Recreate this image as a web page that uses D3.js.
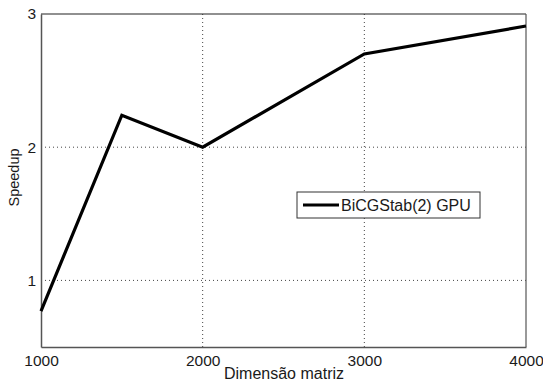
<!DOCTYPE html>
<html>
<head>
<meta charset="utf-8">
<script src="https://cdn.jsdelivr.net/npm/d3@7"></script>
<style>
  body { margin: 0; background: #fff; }
  text { font-family: "Liberation Sans", Arial, sans-serif; fill: #1a1a1a; }
</style>
</head>
<body>
<div id="chart"></div>
<script>
// data
var sizes = [1000, 1500, 2000, 3000, 4000];
var speedup = [0.77, 2.24, 2.0, 2.7, 2.91];
var xTicks = [1000, 2000, 3000, 4000];
var yTicks = [1, 2, 3];
var seriesName = "BiCGStab(2) GPU";

var W = 543, H = 385;
var margin = {left: 41, top: 14, right: 17, bottom: 38};
var pw = W - margin.left - margin.right,
    ph = H - margin.top - margin.bottom;

var svg = d3.select("#chart").append("svg")
    .attr("width", W)
    .attr("height", H);

var g = svg.append("g")
    .attr("transform", "translate(" + margin.left + "," + margin.top + ")");

var x = d3.scaleLinear().domain([1000, 4000]).range([0, pw]);
var y = d3.scaleLinear().domain([0.5, 3]).range([ph, 0]);

// grid
g.selectAll(".gx").data(xTicks.slice(1, -1)).enter().append("line")
    .attr("x1", function(d){ return x(d); })
    .attr("x2", function(d){ return x(d); })
    .attr("y1", 0).attr("y2", ph)
    .attr("stroke", "#444").attr("stroke-width", 1)
    .attr("stroke-dasharray", "1,3");
g.selectAll(".gy").data(yTicks.slice(0, -1)).enter().append("line")
    .attr("x1", 0).attr("x2", pw)
    .attr("y1", function(d){ return y(d); })
    .attr("y2", function(d){ return y(d); })
    .attr("stroke", "#444").attr("stroke-width", 1)
    .attr("stroke-dasharray", "1,3");

// axes
var xAxis = g.append("g").attr("transform", "translate(0," + ph + ")")
    .call(d3.axisBottom(x).tickValues(xTicks).tickFormat(d3.format("d")).tickSize(0).tickPadding(8));
var yAxis = g.append("g")
    .call(d3.axisLeft(y).tickValues(yTicks).tickFormat(d3.format("d")).tickSize(0).tickPadding(5));
[xAxis, yAxis].forEach(function(a){
    a.select(".domain").attr("stroke", "#555").attr("stroke-width", 1.5);
    a.selectAll("text").attr("font-size", 15.5).attr("fill", "#1a1a1a");
});

// top and right frame
g.append("line").attr("x1", 0).attr("x2", pw).attr("y1", 0).attr("y2", 0)
    .attr("stroke", "#222").attr("stroke-width", 1.2);
g.append("line").attr("x1", pw).attr("x2", pw).attr("y1", 0).attr("y2", ph)
    .attr("stroke", "#555").attr("stroke-width", 1.2);

// series line
var line = d3.line()
    .x(function(d, i){ return x(sizes[i]); })
    .y(function(d){ return y(d); });
g.append("path").datum(speedup)
    .attr("d", line)
    .attr("fill", "none")
    .attr("stroke", "#000")
    .attr("stroke-width", 3.2)
    .attr("stroke-linejoin", "miter");

// legend
var lg = svg.append("g").attr("transform", "translate(297,192)");
lg.append("rect").attr("width", 183).attr("height", 26)
    .attr("fill", "#fff").attr("stroke", "#333").attr("stroke-width", 1);
lg.append("line").attr("x1", 6).attr("x2", 42).attr("y1", 13).attr("y2", 13)
    .attr("stroke", "#000").attr("stroke-width", 3.2);
lg.append("text").attr("x", 44).attr("y", 18.5).attr("font-size", 16).text(seriesName);

// axis labels
svg.append("text")
    .attr("x", 284).attr("y", 379)
    .attr("text-anchor", "middle").attr("font-size", 16)
    .text("Dimensão matriz");
svg.append("text")
    .attr("transform", "translate(19," + (margin.top + ph / 2 - 3) + ") rotate(-90)")
    .attr("text-anchor", "middle").attr("font-size", 14.5)
    .text("Speedup");
</script>
</body>
</html>
